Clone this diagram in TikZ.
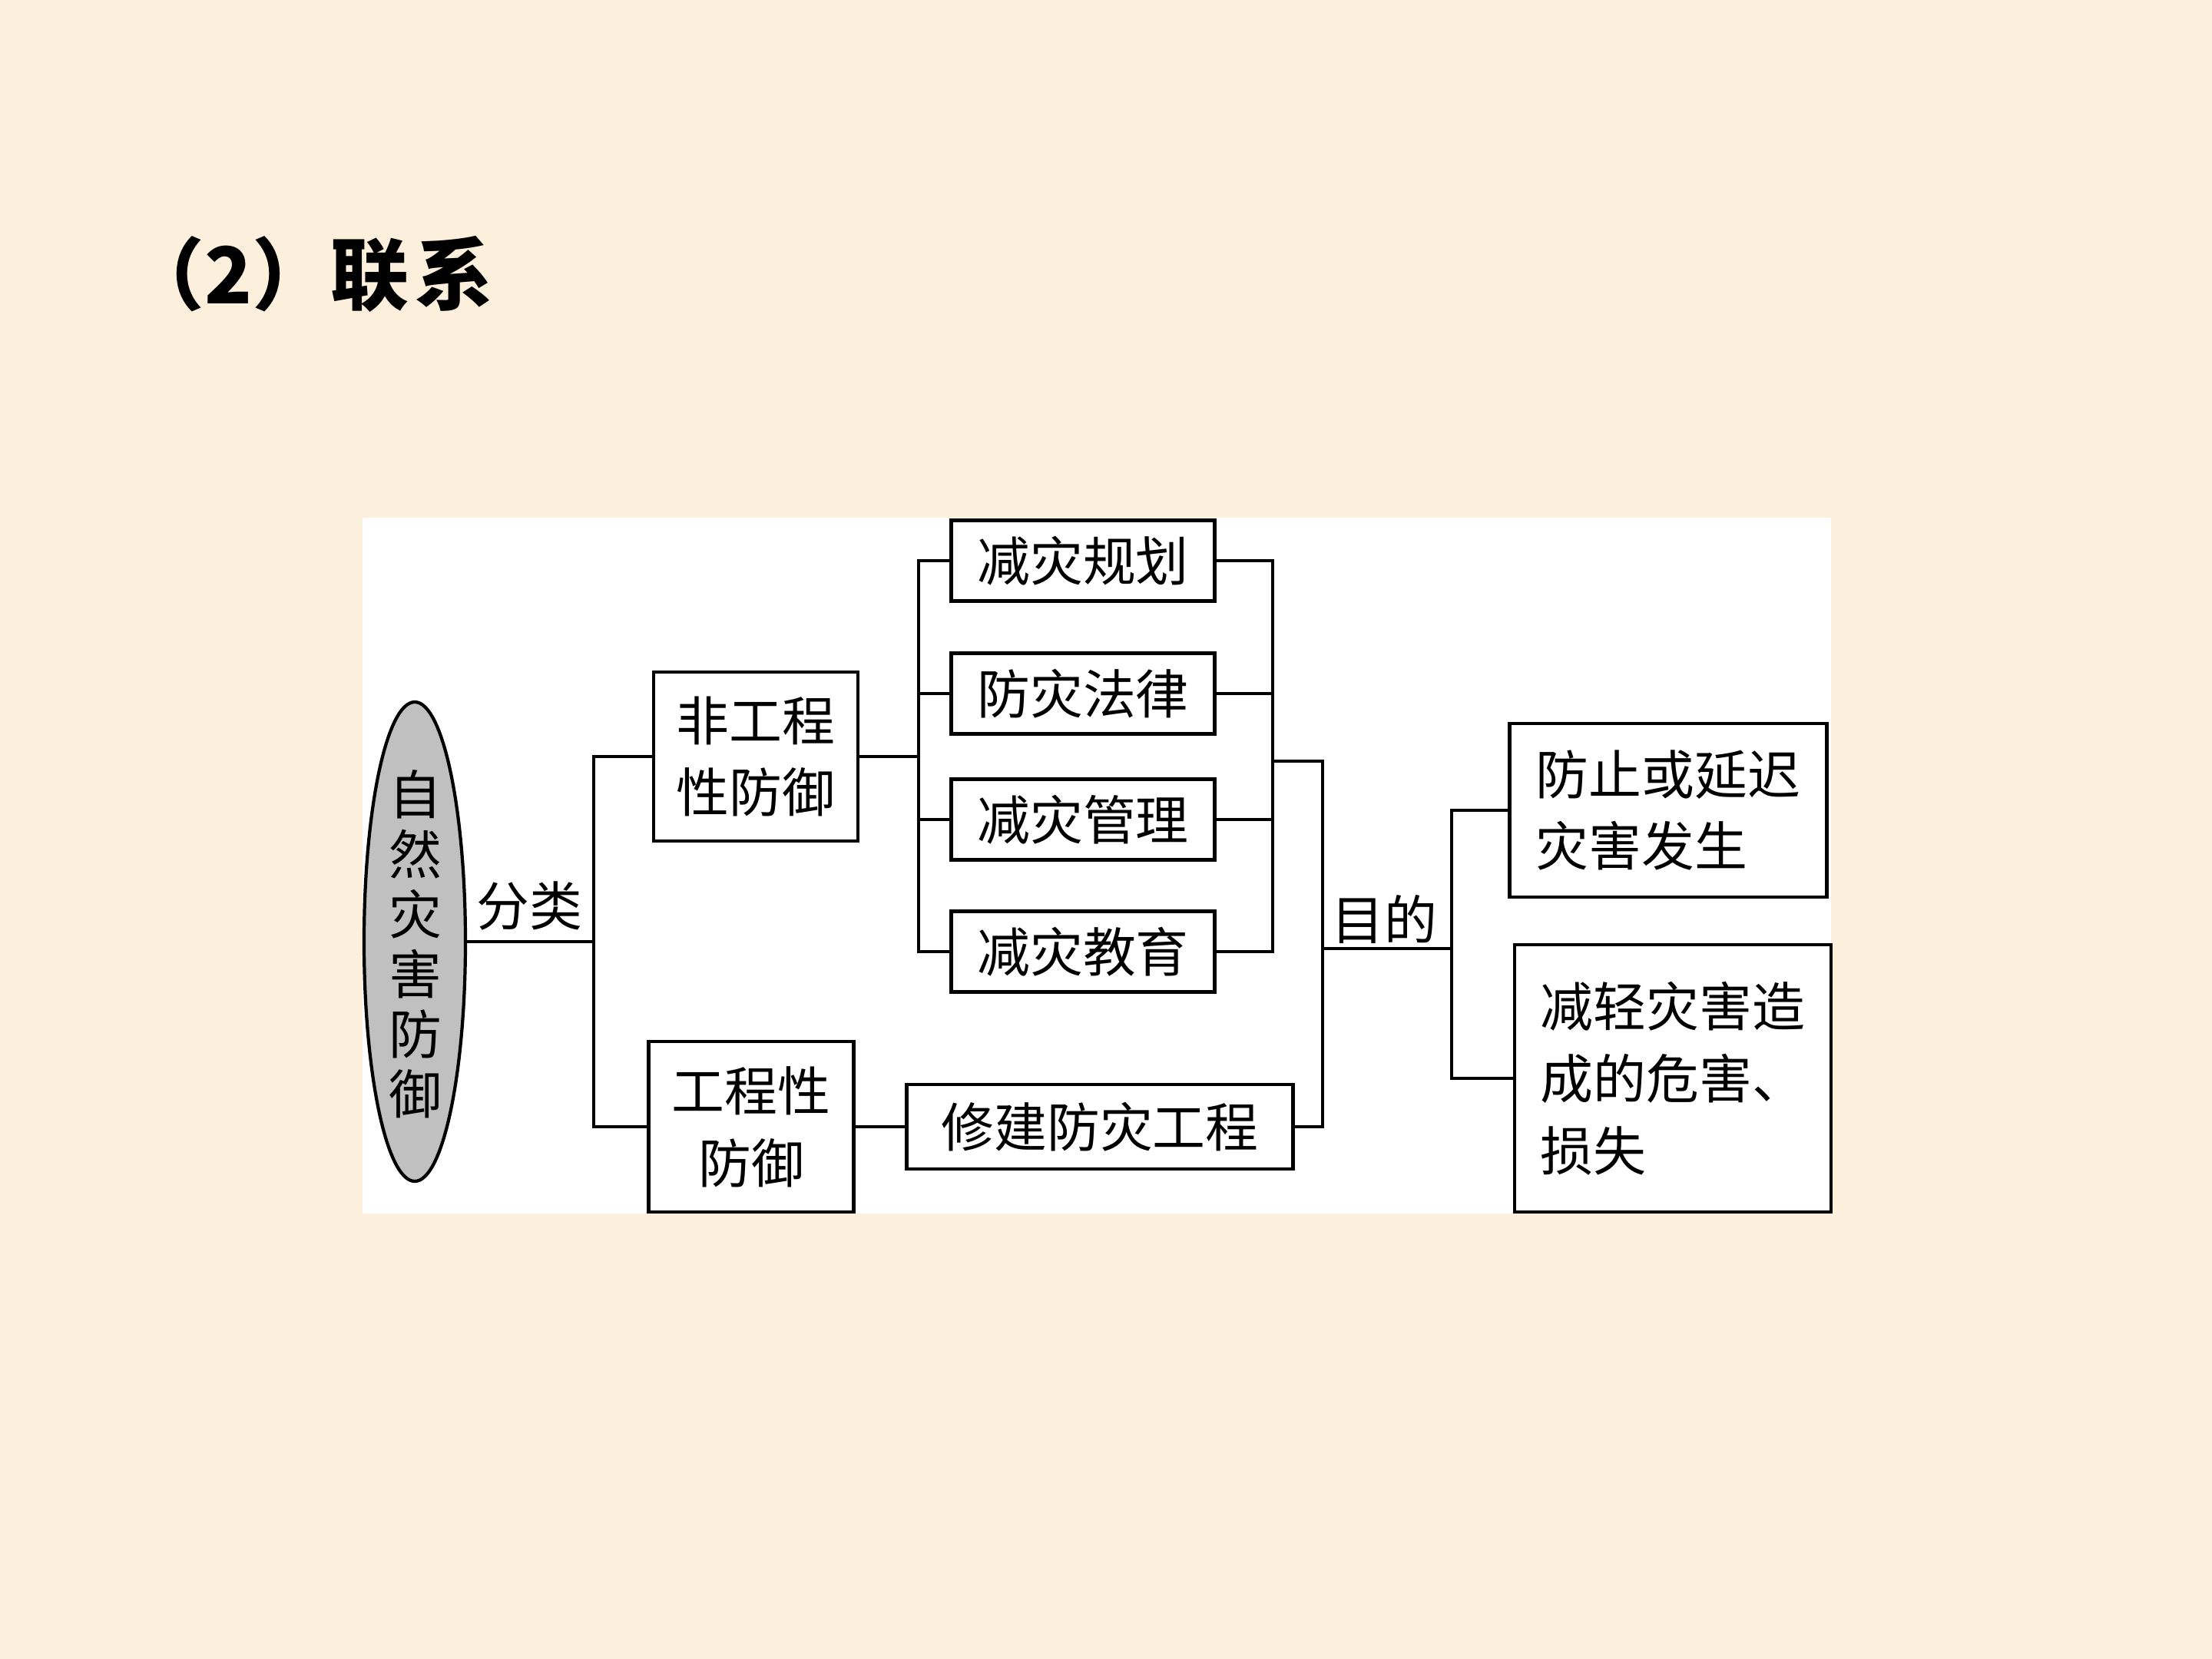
\documentclass[tikz,border=0pt]{standalone}
\usepackage{fontspec}
\setmainfont{Noto Sans CJK SC}
\usetikzlibrary{shapes.geometric}
\definecolor{paper}{RGB}{252,239,220}
\definecolor{ellgray}{RGB}{192,192,192}

\begin{document}
\begin{tikzpicture}[
    line width=1.2pt,
    word/.style={inner sep=0pt, font=\fontsize{19.6pt}{26.7pt}\selectfont},
    box/.style={word, draw, align=center}]
      \fill[paper] (0,0) rectangle (28.8,-21.6);
      \useasboundingbox (0,0) rectangle (28.8,-21.6);
      \fill[white] (4.72,-6.74) rectangle (23.84,-15.80);

      \node[anchor=west, inner sep=0pt, font=\fontsize{29pt}{30pt}\selectfont\bfseries] (title) at (1.62,-3.57) {（2）联\hspace{0.08em}系};

      \node[ellipse, draw, fill=ellgray, inner sep=0pt, minimum width=1.32cm, minimum height=6.24cm] (ell) at (5.40,-12.26) {};
      \node[word, align=center, font=\fontsize{19.6pt}{22.2pt}\selectfont] (elltxt) at (5.41,-12.29) {自\\然\\灾\\害\\防\\御};
      \node[word] (fenlei) at (6.89,-11.79) {分类};
      \coordinate (j1) at (7.73,-12.26);

      \node[box, minimum width=2.66cm, minimum height=2.20cm] (feigc) at (9.84,-9.85) {非工程\\性防御};
      \node[box, minimum width=2.67cm, minimum height=2.22cm] (gc) at (9.78,-14.67) {工程性\\防御};

      \node[box, minimum width=3.43cm, minimum height=1.05cm] (b1) at (14.10,-7.30) {减灾规划};
      \node[box, minimum width=3.43cm, minimum height=1.05cm] (b2) at (14.10,-9.03) {防灾法律};
      \node[box, minimum width=3.43cm, minimum height=1.05cm] (b3) at (14.10,-10.67) {减灾管理};
      \node[box, minimum width=3.43cm, minimum height=1.05cm] (b4) at (14.10,-12.39) {减灾教育};
      \node[box, minimum width=5.03cm, minimum height=1.10cm] (xj) at (14.32,-14.67) {修建防灾工程};
      \coordinate (j2) at (11.96,-9.85);
      \coordinate (j3) at (16.57,-9.91);
      \coordinate (j4) at (17.22,-9.91);
      \coordinate (j5) at (17.22,-12.35);
      \coordinate (j6) at (18.90,-12.35);
      \node[word] (mudi) at (18.02,-11.97) {目的};

      \node[box, align=left, minimum width=4.13cm, minimum height=2.26cm] (fz) at (21.72,-10.55) {防止或延迟\\灾害发生};
      \node[box, align=left, minimum width=4.12cm, minimum height=3.48cm] (jq) at (21.78,-14.04) {减轻灾害造\\成的危害、\\损失};

      \draw (ell.east) -- (j1);
      \draw (feigc.west) -| (j1) |- (gc.west);
      \draw (feigc.east) -- (j2);
      \draw (b1.west) -| (j2) |- (b4.west);
      \draw (b2.west) -- (b2.west -| j2);
      \draw (b3.west) -- (b3.west -| j2);
      \draw (b1.east) -| (j3) |- (b4.east);
      \draw (b2.east) -- (b2.east -| j3);
      \draw (b3.east) -- (b3.east -| j3);
      \draw (j3) -- (j4) |- (xj.east);
      \draw (gc.east) -- (xj.west);
      \draw (j5) -- (j6);
      \draw (fz.west) -| (j6) |- (jq.west);
\end{tikzpicture}
\end{document}
